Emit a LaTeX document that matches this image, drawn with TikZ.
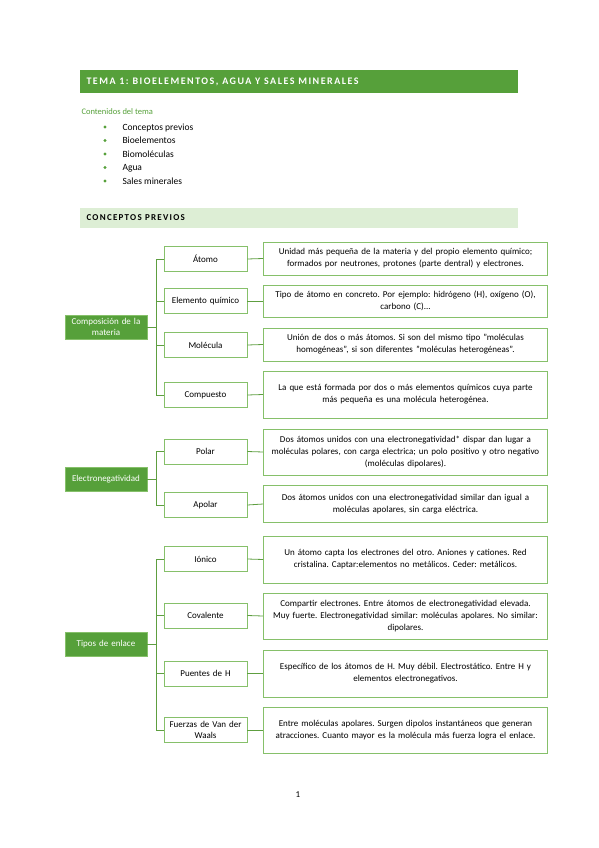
\documentclass[tikz,border=0pt]{standalone}
\usepackage{fontspec}
\setmainfont{Carlito}
\usetikzlibrary{positioning}
\frenchspacing
\definecolor{darkgreen}{HTML}{56A03A}
\definecolor{linegreen}{HTML}{5E9E40}
\definecolor{boxgreen}{HTML}{86C06A}
\definecolor{palegreen}{HTML}{DDEED5}
\tikzset{   root/.style = {rectangle, draw = boxgreen, fill = darkgreen, text = white, text width = 80pt, align = center, minimum width = 82pt, minimum height = 24pt, inner sep = 1pt, font = \fontsize{9}{11.5}\selectfont},
            item/.style = {rectangle, draw = boxgreen, thick, fill = white, text width = 80pt, align = center, minimum width = 83pt, minimum height = 25pt, inner sep = 1pt, font = \fontsize{9}{11.5}\selectfont},
            desc/.style = {rectangle, draw = boxgreen, thick, fill = white, text width = 282pt, align = center, minimum width = 284pt, inner sep = 1pt, font = \fontsize{9}{12}\selectfont},
            link/.style = {draw = linegreen, thick}}

\begin{document}
\begin{tikzpicture}[x=1pt,y=-1pt]
                        \useasboundingbox (0,0) rectangle (599,848);
                        % cabecera
                        \fill[darkgreen] (80,70) rectangle (518,93);
                        \node[anchor=west, text=white, font=\fontsize{10}{12}\selectfont\bfseries\addfontfeature{LetterSpace=15}] (title) at (83,81.5) {TEMA 1: BIOELEMENTOS, AGUA Y SALES MINERALES};
                        \node[anchor=base west, text=darkgreen, font=\fontsize{8.5}{10}\selectfont] (cont) at (78,115) {Contenidos del tema};
                        \foreach \t [count=\i] in {Conceptos previos, Bioelementos, Biomoléculas, Agua, Sales minerales}{
                          \fill[darkgreen] (105,113.5+13.5*\i) circle (1.6);
                          \node[anchor=base west, font=\fontsize{9.5}{10}\selectfont] (b\i) at (119,116.7+13.5*\i) {\t};
                        }
                        \fill[palegreen] (80,208) rectangle (518,228);
                        \node[anchor=west, font=\fontsize{9}{10}\selectfont\bfseries\addfontfeature{LetterSpace=14}] (sec) at (83,218) {CONCEPTOS PREVIOS};

                        % composicion de la materia
                        \node[root] (mat) at (106,327) {Composición de la\\ materia};
                        \node[item] (ato) at (205.5,259) {Átomo};
                        \node[item] (ele) at (205.5,301) {Elemento químico};
                        \node[item] (mol) at (205.5,345) {Molécula};
                        \node[item] (com) at (205.5,395) {Compuesto};
                        \node[desc, minimum height=33pt] (atod) at (405.5,258.5) {Unidad más pequeña de la materia y del propio elemento químico;\\ formados por neutrones, protones (parte dentral) y electrones.};
                        \node[desc, minimum height=32pt] (eled) at (405.5,301) {Tipo de átomo en concreto. Por ejemplo: hidrógeno (H), oxígeno (O),\\ carbono (C)...};
                        \node[desc, minimum height=33pt] (mold) at (405.5,344.5) {Unión de dos o más átomos. Si son del mismo tipo "moléculas\\ homogéneas", si son diferentes "moléculas heterogéneas".};
                        \node[desc, minimum height=47pt] (comd) at (405.5,394.5) {La que está formada por dos o más elementos químicos cuya parte\\ más pequeña es una molécula heterogénea.};
                        \coordinate (bus1) at (156,327);
                        \draw[link] (mat.east) -- (bus1);
                        \foreach \n in {ato,ele,mol,com}{
                          \draw[link] (bus1) |- (\n.west);
                          \draw[link] (\n.east) -- (\n d.west);
                        }

                        % electronegatividad
                        \node[root] (neg) at (106,479) {Electronegatividad};
                        \node[item] (pol) at (205.5,451.5) {Polar};
                        \node[item] (apo) at (205.5,505) {Apolar};
                        \node[desc, minimum height=46pt] (pold) at (405.5,452) {Dos átomos unidos con una electronegatividad* dispar dan lugar a\\ moléculas polares, con carga electrica; un polo positivo y otro negativo\\ (moléculas dipolares).};
                        \node[desc, minimum height=37pt] (apod) at (405.5,504) {Dos átomos unidos con una electronegatividad similar dan igual a\\ moléculas apolares, sin carga eléctrica.};
                        \coordinate (bus2) at (156,479);
                        \draw[link] (neg.east) -- (bus2);
                        \foreach \n in {pol,apo}{
                          \draw[link] (bus2) |- (\n.west);
                          \draw[link] (\n.east) -- (\n d.west);
                        }

                        % tipos de enlace
                        \node[root] (enl) at (106,644.5) {Tipos de enlace};
                        \node[item] (ion) at (205.5,559) {Iónico};
                        \node[item] (cov) at (205.5,615.5) {Covalente};
                        \node[item] (pue) at (205.5,673.5) {Puentes de H};
                        \node[item] (fue) at (205.5,730) {Fuerzas de Van der\\ Waals};
                        \node[desc, minimum height=47pt] (iond) at (405.5,559.5) {Un átomo capta los electrones del otro. Aniones y cationes. Red\\ cristalina. Captar:elementos no metálicos. Ceder: metálicos.};
                        \node[desc, minimum height=46pt] (covd) at (405.5,616) {Compartir electrones. Entre átomos de electronegatividad elevada.\\ Muy fuerte. Electronegatividad similar: moléculas apolares. No similar:\\ dipolares.};
                        \node[desc, minimum height=47pt] (pued) at (405.5,673.5) {Específico de los átomos de H. Muy débil. Electrostático. Entre H y\\ elementos electronegativos.};
                        \node[desc, minimum height=46pt] (fued) at (405.5,730) {Entre moléculas apolares. Surgen dipolos instantáneos que generan\\ atracciones. Cuanto mayor es la molécula más fuerza logra el enlace.};
                        \coordinate (bus3) at (156,644.5);
                        \draw[link] (enl.east) -- (bus3);
                        \foreach \n in {ion,cov,pue,fue}{
                          \draw[link] (bus3) |- (\n.west);
                          \draw[link] (\n.east) -- (\n d.west);
                        }

                        \node[font=\fontsize{9}{10}\selectfont] (page) at (298,795) {1};
\end{tikzpicture}
\end{document}
